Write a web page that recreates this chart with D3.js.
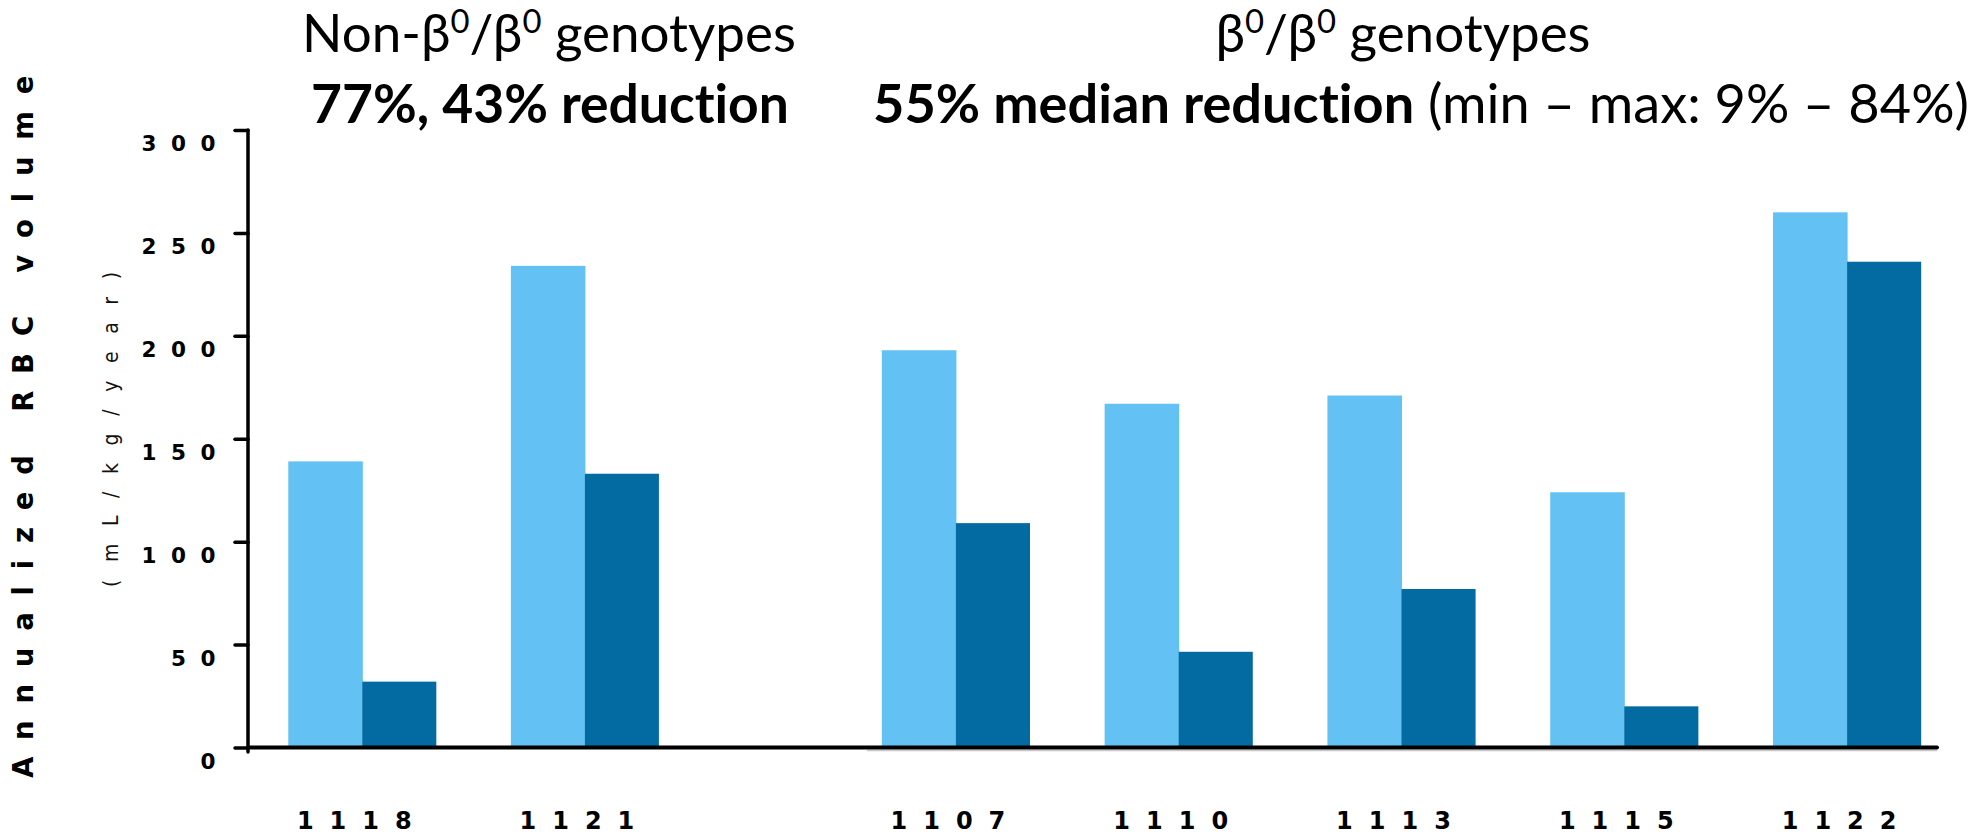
<!DOCTYPE html>
<html>
<head>
<meta charset="utf-8">
<script src="https://cdn.jsdelivr.net/npm/d3@7/dist/d3.min.js"></script>
<style>
  html, body { margin: 0; padding: 0; background: #fff; }
  svg { display: block; }
  text { font-variant-ligatures: none; font-feature-settings: "liga" 0, "clig" 0; }
</style>
</head>
<body>
<svg id="chart" width="1972" height="836"></svg>
<script>
// Patient IDs per genotype group
const categoriesNonB0 = ["1118", "1121"];
const categoriesB0 = ["1107", "1110", "1113", "1115", "1122"];

// Annualized RBC transfusion volume (mL/kg/year): before vs after treatment
const beforeNonB0 = [139, 234];
const afterNonB0 = [32, 133];
const beforeB0 = [193, 167, 171, 124, 260];
const afterB0 = [109, 46.5, 77, 20, 236];

const yTicks = [0, 50, 100, 150, 200, 250, 300];

const colorBefore = "#63C2F3";
const colorAfter = "#036AA2";

const svg = d3.select("#chart");

const axisX = 248;          // y-axis position
const y = d3.scaleLinear().domain([0, 300]).range([747.5, 130]);

// Two panels, each with its own band scale
const panels = [
  { cats: categoriesNonB0, before: beforeNonB0, after: afterNonB0, range: [251, 696.2] },
  { cats: categoriesB0, before: beforeB0, after: afterB0, range: [844.5, 1958.5] }
];

const tickFont = "'DejaVu Sans', Verdana, sans-serif";

panels.forEach(p => {
  const x = d3.scaleBand().domain(p.cats).range(p.range)
    .paddingInner(0.335).paddingOuter(0.1675);
  const half = x.bandwidth() / 2;
  const rows = p.cats.map((c, i) => ({ c, before: p.before[i], after: p.after[i] }));

  const g = svg.append("g");
  g.selectAll("rect.before").data(rows).join("rect")
    .attr("class", "before")
    .attr("x", d => x(d.c))
    .attr("y", d => y(d.before))
    .attr("width", half + 0.5)
    .attr("height", d => y(0) - y(d.before))
    .attr("fill", colorBefore);
  g.selectAll("rect.after").data(rows).join("rect")
    .attr("class", "after")
    .attr("x", d => x(d.c) + half)
    .attr("y", d => y(d.after))
    .attr("width", half)
    .attr("height", d => y(0) - y(d.after))
    .attr("fill", colorAfter);

  // Category labels
  const xa = svg.append("g")
    .attr("transform", `translate(0,${y(0)})`)
    .call(d3.axisBottom(x).tickSize(0).tickPadding(0));
  xa.select(".domain").remove();
  xa.selectAll("text")
    .attr("y", 829 - y(0))
    .attr("dy", 0)
    .attr("fill", "#000")
    .style("font-family", tickFont)
    .style("font-weight", "bold")
    .style("font-size", "24px")
    .style("letter-spacing", "16px");
});

// Faint shadow line under the right panel's baseline
svg.append("line")
  .attr("x1", 867).attr("x2", 1937)
  .attr("y1", y(0) + 3).attr("y2", y(0) + 3)
  .attr("stroke", "#c8c8c8").attr("stroke-width", 1.5);

// Category axis line
svg.append("line")
  .attr("x1", axisX).attr("x2", 1937)
  .attr("y1", y(0)).attr("y2", y(0))
  .attr("stroke", "#000").attr("stroke-width", 4)
  .attr("stroke-linecap", "round");

// Value axis
const ya = svg.append("g")
  .attr("transform", `translate(${axisX},0)`)
  .call(d3.axisLeft(y).tickValues(yTicks).tickSize(13).tickPadding(5).tickFormat(d3.format("d")));
ya.select(".domain").remove();
ya.selectAll(".tick line").attr("stroke", "#000").attr("stroke-width", 3.5).attr("stroke-linecap", "round");
ya.selectAll(".tick text")
  .attr("y", 14)
  .attr("fill", "#000")
  .style("font-family", tickFont)
  .style("font-weight", "bold")
  .style("font-size", "21.5px")
  .style("letter-spacing", "14.5px");
svg.append("line")
  .attr("x1", axisX).attr("x2", axisX)
  .attr("y1", y(300)).attr("y2", y(0) + 4.5)
  .attr("stroke", "#000").attr("stroke-width", 3.5)
  .attr("stroke-linecap", "round");

// Axis titles
svg.append("text")
  .attr("transform", "translate(33,778) rotate(-90)")
  .attr("text-anchor", "start")
  .style("font-family", tickFont)
  .style("font-weight", "bold")
  .style("font-size", "27.5px")
  .style("letter-spacing", "16.8px")
  .text("Annualized RBC volume");

svg.append("text")
  .attr("transform", "translate(118,587) rotate(-90)")
  .attr("text-anchor", "start")
  .attr("fill", "#111")
  .style("font-family", "'DejaVu Sans Condensed', 'DejaVu Sans', sans-serif")
  .style("font-size", "21px")
  .style("letter-spacing", "17.6px")
  .text("(mL/kg/year)");

// Panel headings
const titleFont = "Lato, Carlito, 'Open Sans', sans-serif";

// Draws a heading; sized to a target width unless a font size is given
function heading(parts, cx, baseline, targetWidth, fixedSize) {
  const t = svg.append("text")
    .attr("x", cx).attr("y", baseline)
    .attr("text-anchor", "middle")
    .style("font-family", titleFont)
    .style("font-size", "46px");
  parts.forEach(p => {
    const s = t.append("tspan").text(p.text);
    if (p.bold) s.style("font-weight", "bold");
    if (p.sup) s.attr("baseline-shift", "super").style("font-size", "62%");
  });
  let size = fixedSize;
  if (!size) {
    const w = t.node().getBBox().width;
    size = 46 * targetWidth / w;
  }
  t.style("font-size", size + "px");
  return size;
}

const genotypeSize = heading([
  { text: "Non-β" }, { text: "0", sup: true }, { text: "/β" }, { text: "0", sup: true },
  { text: " genotypes" }
], 549, 52, 494);
heading([{ text: "77%, 43% reduction", bold: true }], 550, 123, 478);

heading([
  { text: "β" }, { text: "0", sup: true }, { text: "/β" }, { text: "0", sup: true },
  { text: " genotypes" }
], 1403, 52, null, genotypeSize);
heading([
  { text: "55% median reduction", bold: true },
  { text: " (min – max: 9% – 84%)" }
], 1421, 123, 1096);
</script>
</body>
</html>
